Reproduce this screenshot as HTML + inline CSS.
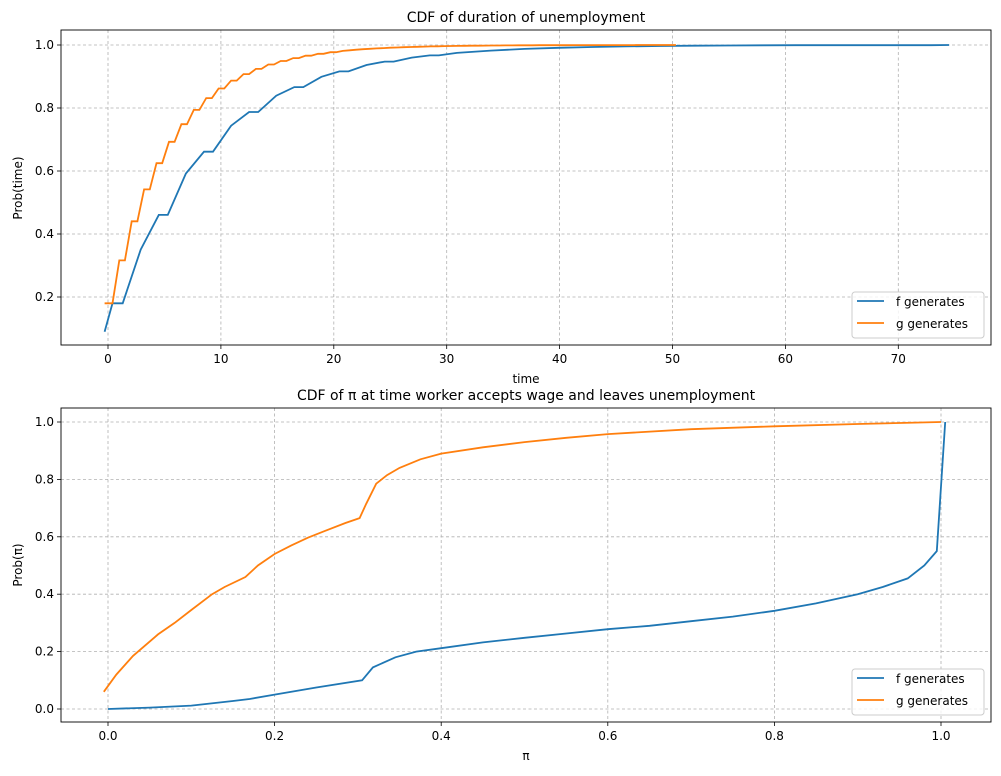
<!DOCTYPE html>
<html><head><meta charset="utf-8"><style>
body{margin:0;background:#fff;}
svg{display:block;font-family:"DejaVu Sans","Liberation Sans",sans-serif;}
</style></head><body>
<svg id="s" width="1001" height="776" xmlns="http://www.w3.org/2000/svg"></svg>
<script>
const s=document.getElementById('s');let h='';
function grid(x0,x1,y0,y1,xt,yt){
 xt.forEach(([p,l])=>{h+=`<line x1="${p}" y1="${y0}" x2="${p}" y2="${y1}" stroke="#b0b0b0" stroke-dasharray="3,2.5" stroke-width="0.8"/>`;
 h+=`<line x1="${p}" y1="${y1}" x2="${p}" y2="${y1+4}" stroke="#000" stroke-width="0.8"/><text x="${p}" y="${y1+18}" font-size="12" text-anchor="middle">${l}</text>`;});
 yt.forEach(([p,l])=>{h+=`<line x1="${x0}" y1="${p}" x2="${x1}" y2="${p}" stroke="#b0b0b0" stroke-dasharray="3,2.5" stroke-width="0.8"/>`;
 h+=`<line x1="${x0-4}" y1="${p}" x2="${x0}" y2="${p}" stroke="#000" stroke-width="0.8"/><text x="${x0-7}" y="${p+4}" font-size="12" text-anchor="end">${l}</text>`;});
}
function frame(x0,x1,y0,y1){h+=`<rect x="${x0}" y="${y0}" width="${x1-x0}" height="${y1-y0}" fill="none" stroke="#000" stroke-width="0.9"/>`;}
function path(pts,c){h+=`<polyline fill="none" stroke="${c}" stroke-width="1.8" points="${pts.map(p=>p[0].toFixed(1)+','+p[1].toFixed(1)).join(' ')}"/>`;}
function legend(y){h+=`<rect x="852" y="${y}" width="132" height="46" rx="3" fill="#fff" fill-opacity="0.8" stroke="#ccc"/>`;
 h+=`<line x1="857" y1="${y+9}" x2="884" y2="${y+9}" stroke="#1f77b4" stroke-width="1.8"/><text x="896" y="${y+14}" font-size="12">f generates</text>`;
 h+=`<line x1="857" y1="${y+31}" x2="884" y2="${y+31}" stroke="#ff7f0e" stroke-width="1.8"/><text x="896" y="${y+36}" font-size="12">g generates</text>`;}
const TX=t=>108+t*11.29, TY=v=>45+(1-v)*315;
grid(61,991,30,345,[0,10,20,30,40,50,60,70].map(t=>[TX(t),t]),[1,0.8,0.6,0.4,0.2].map(v=>[TY(v),v.toFixed(1)]));
let fp=[[-0.3,0.09],[0.4,0.18],[1.3,0.18]];
let t=1.3;let k=0;
while(t<72){let dt=t<30?1.6:3;let nt=t+dt;let v=1-0.91*Math.exp(-nt/8.6);if(v>0.9995)v=0.9995;fp.push([nt,v]);k++;
 if(t<30&&k%2==0){fp.push([nt+0.8,v]);nt+=0.8;} t=nt;}
fp.push([74.5,1.0]);
path(fp.map(p=>[TX(p[0]),TY(p[1])]),'#1f77b4');
let gp=[[-0.3,0.18],[0.4,0.18]];t=0.4;
while(t<50){let nt=t+0.6;let v=1-0.82*Math.exp(-nt/5.5);gp.push([nt,v]);if(nt<20){gp.push([nt+0.5,v]);nt+=0.5;}t=nt;}
gp.push([50.3,1.0]);
path(gp.map(p=>[TX(p[0]),TY(p[1])]),'#ff7f0e');
frame(61,991,30,345);legend(292);
h+=`<text x="526" y="22" font-size="14" text-anchor="middle">CDF of duration of unemployment</text>`;
h+=`<text x="526" y="383" font-size="12" text-anchor="middle">time</text>`;
h+=`<text transform="translate(22,188) rotate(-90)" font-size="12" text-anchor="middle">Prob(time)</text>`;
const BX=x=>108+x*833, BY=v=>422+(1-v)*287;
grid(61,991,408,722,[0,0.2,0.4,0.6,0.8,1].map(x=>[BX(x),x.toFixed(1)]),[1,0.8,0.6,0.4,0.2,0].map(v=>[BY(v),v.toFixed(1)]));
const bf=[[0,0],[0.05,0.005],[0.1,0.012],[0.15,0.028],[0.17,0.035],[0.2,0.05],[0.25,0.075],[0.305,0.1],[0.318,0.145],[0.345,0.18],[0.37,0.2],[0.4,0.212],[0.45,0.232],[0.5,0.248],[0.55,0.263],[0.6,0.278],[0.65,0.29],[0.7,0.306],[0.75,0.322],[0.8,0.342],[0.85,0.368],[0.9,0.4],[0.93,0.425],[0.96,0.455],[0.98,0.5],[0.995,0.55],[1.005,1.0]];
const bg=[[-0.005,0.06],[0.01,0.12],[0.03,0.185],[0.06,0.26],[0.08,0.3],[0.1,0.345],[0.125,0.4],[0.14,0.425],[0.165,0.46],[0.18,0.5],[0.2,0.54],[0.22,0.57],[0.24,0.597],[0.26,0.62],[0.285,0.648],[0.302,0.665],[0.31,0.715],[0.322,0.785],[0.335,0.815],[0.35,0.84],[0.375,0.87],[0.4,0.89],[0.45,0.912],[0.5,0.93],[0.55,0.945],[0.6,0.958],[0.7,0.975],[0.8,0.985],[0.9,0.993],[1.0,1.0]];
path(bf.map(p=>[BX(p[0]),BY(p[1])]),'#1f77b4');
path(bg.map(p=>[BX(p[0]),BY(p[1])]),'#ff7f0e');
frame(61,991,408,722);legend(669);
h+=`<text x="526" y="400" font-size="14" text-anchor="middle">CDF of π at time worker accepts wage and leaves unemployment</text>`;
h+=`<text x="526" y="760" font-size="12" text-anchor="middle">π</text>`;
h+=`<text transform="translate(22,565) rotate(-90)" font-size="12" text-anchor="middle">Prob(π)</text>`;
s.innerHTML=h;
</script>
</body></html>
